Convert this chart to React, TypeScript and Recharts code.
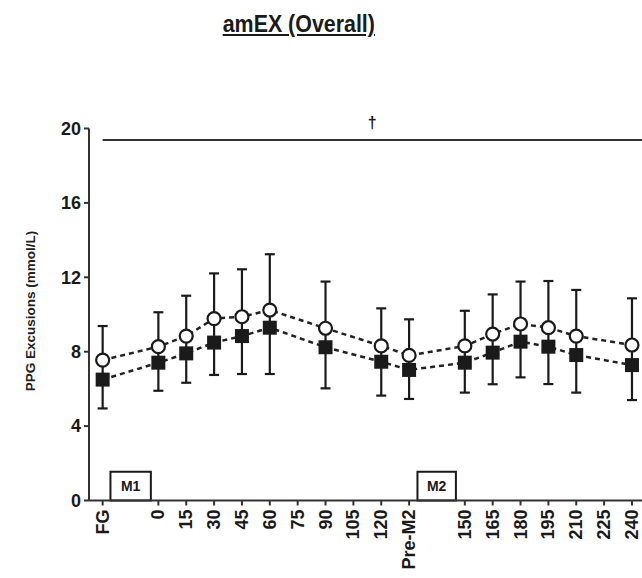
import React from "react";
import {
  ComposedChart,
  Line,
  XAxis,
  YAxis,
  ErrorBar,
  ReferenceLine,
  ReferenceArea,
} from "recharts";

// x slots: blanks ("") are the meal gaps
const categories = [
  "FG", "", "0", "15", "30", "45", "60", "75", "90", "105", "120",
  "Pre-M2", "", "150", "165", "180", "195", "210", "225", "240",
];
const circleMean = [7.55, null, 8.27, 8.84, 9.78, 9.88, 10.24, null, 9.26, null, 8.31, 7.8, null, 8.31, 8.95, 9.49, 9.29, 8.84, null, 8.36];
const squareMean = [6.5, null, 7.41, 7.91, 8.49, 8.84, 9.29, null, 8.24, null, 7.46, 7.02, null, 7.41, 7.95, 8.54, 8.27, 7.82, null, 7.28];
const upperEnd = [9.38, null, 10.12, 11.01, 12.21, 12.43, 13.24, null, 11.77, null, 10.33, 9.74, null, 10.2, 11.08, 11.77, 11.8, 11.32, null, 10.87];
const lowerEnd = [4.95, null, 5.9, 6.33, 6.75, 6.8, 6.8, null, 6.03, null, 5.64, 5.46, null, 5.8, 6.25, 6.62, 6.26, 5.8, null, 5.4];
const yTicks = [0, 4, 8, 12, 16, 20];
const sigLevel = 19.38;

const FONT = "'Liberation Sans', Arial, sans-serif";
const INK = "#1a1a1a";

const data = categories
  .map((label, idx) => ({ label, idx }))
  .filter((d) => circleMean[d.idx] != null)
  .map(({ label, idx }) => {
    const c = circleMean[idx] as number;
    const s = squareMean[idx] as number;
    return {
      idx,
      label,
      circle: c,
      square: s,
      circleErr: [c - s, (upperEnd[idx] as number) - c],
      squareErr: [s - (lowerEnd[idx] as number), 0],
    };
  });

const xTicks = categories
  .map((c, i) => (c ? i : -1))
  .filter((i) => i >= 0);

const XTick = (props: any) => {
  const { x, y, payload } = props;
  return (
    <text
      x={x}
      y={y}
      transform={`rotate(-90 ${x} ${y})`}
      textAnchor="end"
      dominantBaseline="central"
      fontFamily={FONT}
      fontWeight="bold"
      fontSize={18}
      fill={INK}
    >
      {categories[payload.value]}
    </text>
  );
};

const YLabel = () => (
  <text
    x={30}
    y={311}
    transform="rotate(-90 30 311)"
    textAnchor="middle"
    dominantBaseline="central"
    fontFamily={FONT}
    fontWeight="bold"
    fontSize={13.5}
    fill="#222"
  >
    PPG Excusions (mmol/L)
  </text>
);

const CircleDot = (props: any) => {
  const { cx, cy, index } = props;
  return <circle key={`c-${index}`} cx={cx} cy={cy} r={6.5} fill="#fff" stroke={INK} strokeWidth={2.2} />;
};

const SquareDot = (props: any) => {
  const { cx, cy, index } = props;
  return <rect key={`s-${index}`} x={cx - 7} y={cy - 7} width={14} height={14} fill={INK} />;
};

export default function App() {
  return (
    <div style={{ position: "absolute", left: 0, top: 0, width: 642, height: 578, background: "#fff" }}>
      <div
        style={{
          position: "absolute",
          left: 0,
          width: 598,
          top: 13,
          textAlign: "center",
          fontFamily: FONT,
          fontWeight: "bold",
          fontSize: 23,
          lineHeight: "23px",
          color: INK,
        }}
      >
        <span style={{ display: "inline-block", transform: "scaleX(0.93)", textDecoration: "underline" }}>
          amEX (Overall)
        </span>
      </div>
      <ComposedChart
        width={642}
        height={578}
        data={data}
        margin={{ top: 128.5, right: 0, bottom: 0, left: 0 }}
      >
        <XAxis
          type="number"
          dataKey="idx"
          domain={[-0.49, 19.36]}
          ticks={xTicks}
          allowDataOverflow
          interval={0}
          height={77.5}
          tick={<XTick />}
          tickSize={5}
          tickMargin={4}
          axisLine={{ stroke: "#333", strokeWidth: 2 }}
          tickLine={{ stroke: "#333", strokeWidth: 2 }}
        />
        <YAxis
          type="number"
          domain={[0, 20]}
          ticks={yTicks}
          width={89}
          tickSize={5}
          tickMargin={3}
          interval={0}
          axisLine={{ stroke: "#333", strokeWidth: 2 }}
          tickLine={{ stroke: "#333", strokeWidth: 2 }}
          tick={{ fontFamily: FONT, fontWeight: "bold", fontSize: 18, fill: INK }}
          label={<YLabel />}
        />
        <ReferenceLine
          segment={[
            { x: 0, y: sigLevel },
            { x: 19.36, y: sigLevel },
          ]}
          stroke="#333"
          strokeWidth={2}
          ifOverflow="visible"
          label={{ value: "†", position: "top", offset: 12, fontFamily: FONT, fontWeight: "bold", fontSize: 16, fill: INK }}
        />
        <ReferenceArea
          x1={0.28}
          x2={1.73}
          y1={0}
          y2={1.55}
          fill="#fff"
          fillOpacity={1}
          stroke={INK}
          strokeWidth={2}
          label={{ value: "M1", position: "center", fontFamily: FONT, fontWeight: "bold", fontSize: 14, fill: INK }}
        />
        <ReferenceArea
          x1={11.3}
          x2={12.68}
          y1={0}
          y2={1.55}
          fill="#fff"
          fillOpacity={1}
          stroke={INK}
          strokeWidth={2}
          label={{ value: "M2", position: "center", fontFamily: FONT, fontWeight: "bold", fontSize: 14, fill: INK }}
        />
        <Line
          dataKey="square"
          type="linear"
          stroke="#222"
          strokeWidth={2.5}
          strokeDasharray="5 4"
          dot={<SquareDot />}
          activeDot={false}
          isAnimationActive={false}
        >
          <ErrorBar dataKey="squareErr" width={5} stroke={INK} strokeWidth={2.2} direction="y" />
        </Line>
        <Line
          dataKey="circle"
          type="linear"
          stroke="#222"
          strokeWidth={2.5}
          strokeDasharray="5 4"
          dot={<CircleDot />}
          activeDot={false}
          isAnimationActive={false}
        >
          <ErrorBar dataKey="circleErr" width={5} stroke={INK} strokeWidth={2.2} direction="y" />
        </Line>
      </ComposedChart>
    </div>
  );
}
